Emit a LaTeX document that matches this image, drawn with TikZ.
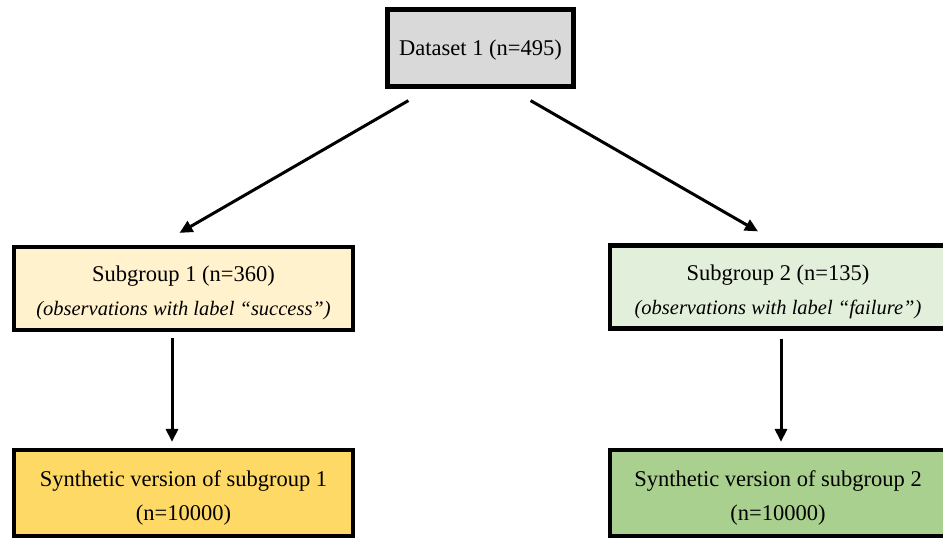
\documentclass[tikz,border=0pt]{standalone}
\usepackage{fontspec}
\setmainfont{Liberation Serif}
\usetikzlibrary{arrows.meta}

\definecolor{topgray}{HTML}{D9D9D9}
\definecolor{paleyellow}{HTML}{FFF2CC}
\definecolor{palegreen}{HTML}{E2EFDA}
\definecolor{gold}{HTML}{FFD966}
\definecolor{leafgreen}{HTML}{A9D08E}

\newcommand{\notefont}{\fontsize{20.5}{34}\selectfont\itshape}

\tikzset{
  box/.style={draw=black, line width=4.2pt, align=center, inner sep=0pt,
    font=\fontsize{22.5}{34}\selectfont},
  twoline/.style={text height=59pt},
  arr/.style={line width=3pt, -{Triangle[length=13pt,width=12pt]}},
}

\begin{document}
\begin{tikzpicture}[x=1pt, y=-1pt]
\useasboundingbox (0,0) rectangle (943,541);

\node[box, fill=topgray, minimum width=186pt, minimum height=77pt, text height=20pt] (top) at (480.5,48) {Dataset 1 (n=495)};

\node[box, twoline, fill=paleyellow, minimum width=339pt, minimum height=83pt] (sub1) at (183.5,288.5)
  {Subgroup 1 (n=360)\\ {\notefont (observations with label “success”)}};
\node[box, twoline, fill=palegreen, minimum width=336pt, minimum height=83pt] (sub2) at (778,287)
  {Subgroup 2 (n=135)\\ {\notefont (observations with label “failure”)}};

\node[box, twoline, fill=gold, minimum width=339pt, minimum height=86pt] (syn1) at (183.5,493)
  {Synthetic version of subgroup 1\\ (n=10000)};
\node[box, twoline, fill=leafgreen, minimum width=336pt, minimum height=86pt] (syn2) at (778,493)
  {Synthetic version of subgroup 2\\ (n=10000)};

\draw[arr] ([xshift=23pt,yshift=-12pt]top.south west) -- ([xshift=-4pt,yshift=12pt]sub1.north);
\draw[arr] ([xshift=-45pt,yshift=-12pt]top.south east) -- ([xshift=-20pt,yshift=12pt]sub2.north);
\draw[arr] ([xshift=-11.5pt,yshift=-6pt]sub1.south) -- ([xshift=-11.5pt,yshift=6pt]syn1.north);
\draw[arr] ([xshift=3pt,yshift=-8pt]sub2.south) -- ([xshift=3pt,yshift=6pt]syn2.north);
\end{tikzpicture}
\end{document}
